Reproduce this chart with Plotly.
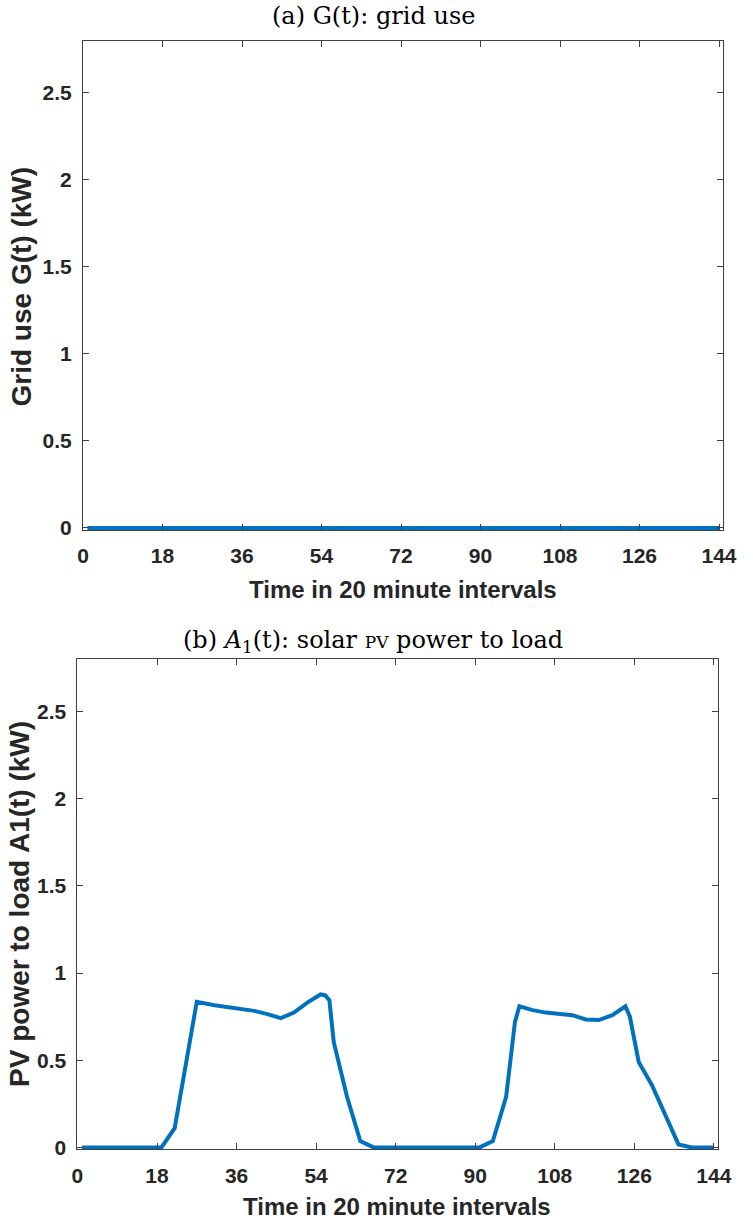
import plotly.graph_objects as go

# ---- data ----
time_ticks = [0, 18, 36, 54, 72, 90, 108, 126, 144]
kw_ticks = [0, 0.5, 1, 1.5, 2, 2.5]
kw_tick_text = ["0", "0.5", "1", "1.5", "2", "2.5"]

# (a) grid use G(t), one value per 20-minute interval
grid_t = list(range(1, 145))
grid_kw = [0.0] * 144

# (b) solar PV power to load A1(t), breakpoints of the profile
pv_t = [1, 19, 22, 27, 31, 36, 40, 43, 46, 49, 52, 55, 56, 57, 58, 61, 64, 67,
        91, 94, 97, 99, 100, 103, 106, 112, 115, 118, 121, 124, 125, 127, 130,
        136, 139, 144]
pv_kw = [0, 0, 0.11, 0.835, 0.815, 0.80, 0.783, 0.764, 0.741, 0.773, 0.83,
         0.877, 0.873, 0.845, 0.603, 0.29, 0.036, 0, 0, 0.036, 0.29, 0.72,
         0.809, 0.787, 0.773, 0.758, 0.734, 0.730, 0.758, 0.809, 0.75, 0.49,
         0.357, 0.017, 0, 0]

W, H = 753, 1224
LINE = "#0072BD"
AX = "#404040"
TXT = "#262626"
SANS = "Liberation Sans, Arial, sans-serif"
SERIF = "DejaVu Serif, serif"


def px_x(a, b):
    return [a / W, b / W]


def px_y(top, bottom):
    return [1 - bottom / H, 1 - top / H]


fig = go.Figure()
fig.add_trace(go.Scatter(x=grid_t, y=grid_kw, mode="lines",
                         line=dict(color=LINE, width=4),
                         xaxis="x", yaxis="y", showlegend=False))
fig.add_trace(go.Scatter(x=pv_t, y=pv_kw, mode="lines",
                         line=dict(color=LINE, width=4),
                         xaxis="x2", yaxis="y2", showlegend=False))

xcommon = dict(range=[0, 145], tickmode="array", tickvals=time_ticks,
               ticks="inside", ticklen=6, tickcolor=AX, showline=True,
               linecolor=AX, linewidth=1, mirror="allticks", showgrid=False,
               zeroline=False, ticklabelstandoff=7,
               tickfont=dict(family=SANS, size=21, color=TXT, weight="bold"))
ycommon = dict(range=[-0.012, 2.8], tickmode="array", tickvals=kw_ticks,
               ticktext=kw_tick_text, ticks="inside", ticklen=6, tickcolor=AX,
               showline=True, linecolor=AX, linewidth=1, mirror="allticks",
               showgrid=False, zeroline=False, ticklabelstandoff=6,
               tickfont=dict(family=SANS, size=21, color=TXT, weight="bold"))

fig.update_layout(
    width=W, height=H,
    margin=dict(l=0, r=0, t=0, b=0),
    paper_bgcolor="white", plot_bgcolor="white",
    xaxis=dict(domain=px_x(79, 736), anchor="y", **xcommon),
    yaxis=dict(domain=px_y(41, 534), anchor="x", **ycommon),
    xaxis2=dict(domain=px_x(73.3, 730.7), anchor="y2", **xcommon),
    yaxis2=dict(domain=px_y(664, 1158), anchor="x2", **ycommon),
)

ann = []


def label(text, x, y, size, family, angle=0, bold=False):
    ann.append(dict(text=text, x=x / W, y=1 - y / H, xref="paper", yref="paper",
                    showarrow=False, textangle=angle, xanchor="center",
                    yanchor="middle",
                    font=dict(family=family, size=size,
                              color=TXT if bold else "black",
                              weight="bold" if bold else "normal")))


# subplot titles
label("(a) G(t): grid use", 377, 16, 24, SERIF)
label("(b) <i>A</i><sub>1</sub>(t): solar <span style='font-size:17px'>PV</span> power to load",
      376, 646, 24, SERIF)
# axis titles
label("Time in 20 minute intervals", 407, 594, 24, SANS, bold=True)
label("Time in 20 minute intervals", 401, 1215, 24, SANS, bold=True)
label("Grid use G(t) (kW)", 16, 289, 28, SANS, angle=-90, bold=True)
label("PV power to load A1(t) (kW)", 14, 911, 28, SANS, angle=-90, bold=True)

fig.update_layout(annotations=ann)
fig.write_html("out.html")
